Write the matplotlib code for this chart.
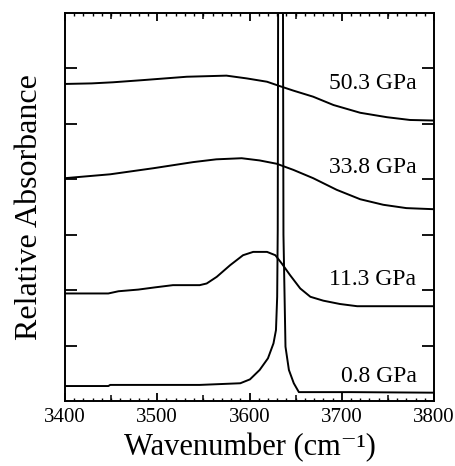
import matplotlib
matplotlib.use("Agg")
import matplotlib.pyplot as plt
import numpy as np

plt.rcParams['font.family'] = ['Liberation Serif', 'DejaVu Serif']

# 0.8 GPa
x_08 = [3400, 3447, 3449, 3546, 3590, 3600.5, 3611, 3620, 3626, 3628.7, 3630,
        3630.6, 3631, 3633.5, 3636.3, 3636.8, 3639, 3642.7, 3648, 3653.5, 3710, 3800]
y_08 = [0.27, 0.27, 0.29, 0.29, 0.32, 0.39, 0.56, 0.77, 1.04, 1.28, 1.88,
        3.08, 7.0, 12.0, 7.0, 3.0, 0.98, 0.56, 0.32, 0.16, 0.16, 0.15]

# 11.3 GPa
x_113 = [3400, 3447, 3458, 3479.5, 3497.6, 3517, 3546, 3553.6, 3564.5, 3579, 3593,
         3604, 3619, 3628, 3635, 3644, 3655, 3666, 3680, 3698, 3716.7, 3800]
y_113 = [1.94, 1.94, 1.98, 2.01, 2.05, 2.09, 2.09, 2.12, 2.24, 2.45, 2.63,
         2.69, 2.69, 2.63, 2.48, 2.27, 2.03, 1.88, 1.81, 1.75, 1.71, 1.71]

# 33.8 GPa
x_338 = [3400, 3449, 3496, 3539, 3564, 3591.5, 3611, 3629.5, 3647.5, 3669, 3694.5,
         3720, 3745, 3770, 3800]
y_338 = [4.02, 4.09, 4.20, 4.31, 4.36, 4.38, 4.34, 4.28, 4.17, 4.02, 3.81,
         3.64, 3.54, 3.48, 3.46]

# 50.3 GPa
x_503 = [3400, 3428.9, 3452, 3485, 3532, 3575, 3597, 3619, 3633, 3647.5, 3669,
         3691, 3720, 3749, 3774, 3800]
y_503 = [5.72, 5.73, 5.75, 5.79, 5.85, 5.87, 5.82, 5.76, 5.68, 5.60, 5.49,
         5.34, 5.20, 5.12, 5.07, 5.06]

labels = ["0.8 GPa", "11.3 GPa", "33.8 GPa", "50.3 GPa"]
label_y = [0.45, 2.19, 4.22, 5.72]

fig = plt.figure(figsize=(4.56, 4.66), dpi=100)
ax = fig.add_axes([0.1425, 0.1395, 0.8093, 0.8326])

for xs, ys in [(x_08, y_08), (x_113, y_113), (x_338, y_338), (x_503, y_503)]:
    ax.plot(xs, ys, color='black', lw=1.4, solid_joinstyle='round')

for lab, ly in zip(labels, label_y):
    ax.text(3781, ly, lab, ha='right', va='center', fontsize=17)

ax.set_xlim(3400, 3800)
ax.set_ylim(0, 7)
ax.set_xticks([3400, 3500, 3600, 3700, 3800])
ax.set_xticks(np.arange(3400, 3801, 10), minor=True)
ax.set_yticks([1, 2, 3, 4, 5, 6])
ax.set_yticklabels([])
ax.tick_params(axis='x', which='major', direction='in', length=6, width=1.3,
               top=True, labelsize=15, pad=5)
ax.tick_params(axis='x', which='minor', direction='in', length=2.5, width=1.0, top=True)
ax.tick_params(axis='y', which='major', direction='in', length=8.5, width=1.3,
               left=True, right=True)
for s in ax.spines.values():
    s.set_linewidth(1.4)

for loc in ['bottom', 'top']:
    sec = ax.secondary_xaxis(loc)
    sec.set_xticks([3450, 3550, 3650, 3750])
    sec.tick_params(direction='in', length=4, width=1.1, labelbottom=False,
                    labeltop=False)
    sec.spines[loc].set_visible(False)

ax.set_xlabel('Wavenumber (cm\u207b\u00b9)', fontsize=22)
ax.xaxis.set_label_coords(0.5, -0.082)
ax.set_ylabel('Relative Absorbance', fontsize=23)
ax.yaxis.set_label_coords(-0.058, 0.5)

fig.savefig('out.png', dpi=100)
